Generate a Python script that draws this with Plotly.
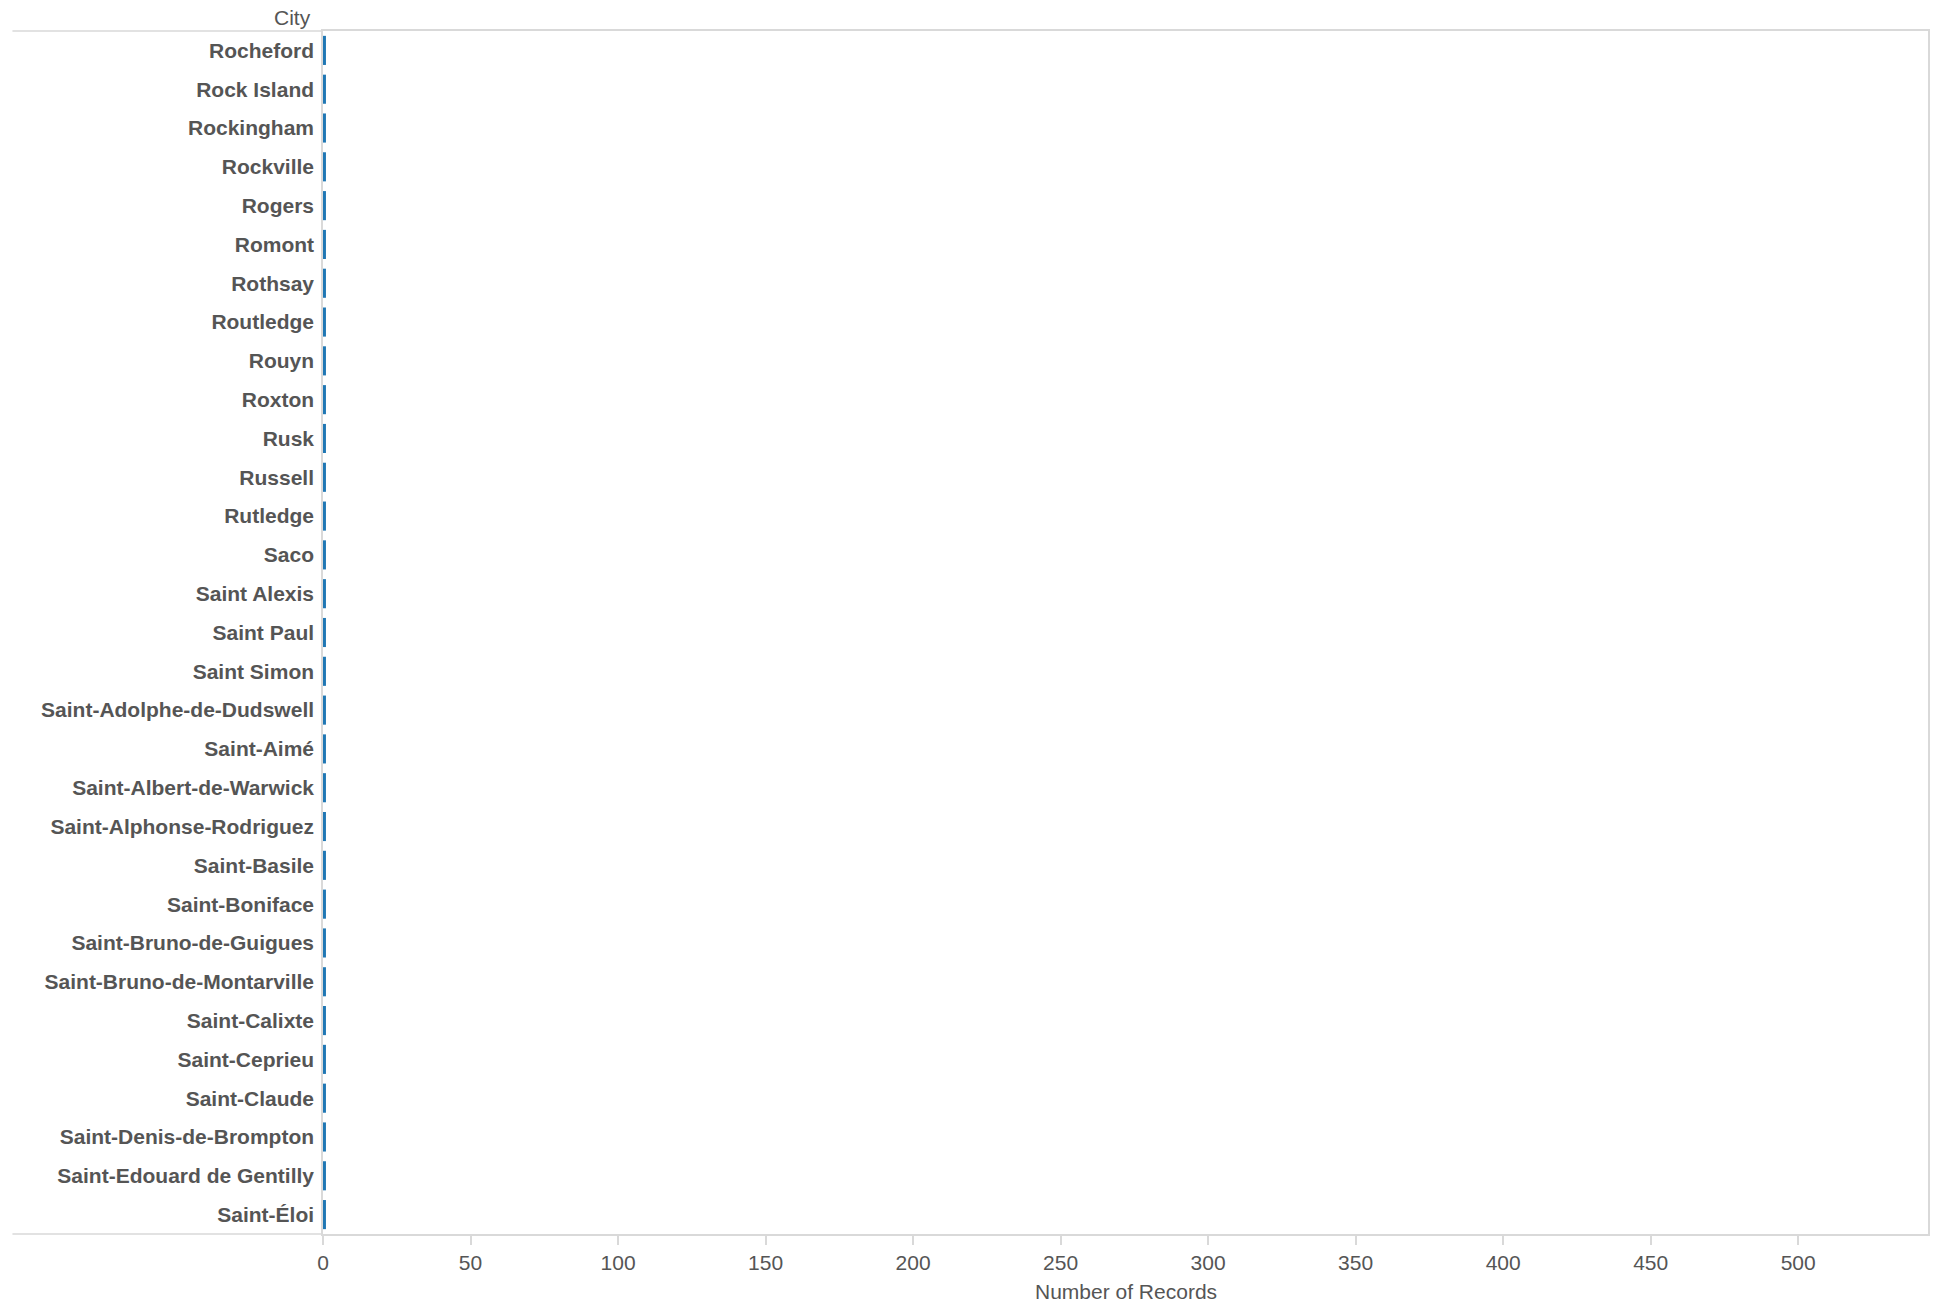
import plotly.graph_objects as go

cities = [
    "Rocheford", "Rock Island", "Rockingham", "Rockville", "Rogers", "Romont",
    "Rothsay", "Routledge", "Rouyn", "Roxton", "Rusk", "Russell", "Rutledge",
    "Saco", "Saint Alexis", "Saint Paul", "Saint Simon",
    "Saint-Adolphe-de-Dudswell", "Saint-Aimé", "Saint-Albert-de-Warwick",
    "Saint-Alphonse-Rodriguez", "Saint-Basile", "Saint-Boniface",
    "Saint-Bruno-de-Guigues", "Saint-Bruno-de-Montarville", "Saint-Calixte",
    "Saint-Ceprieu", "Saint-Claude", "Saint-Denis-de-Brompton",
    "Saint-Edouard de Gentilly", "Saint-Éloi",
]
records = [1] * len(cities)
x_ticks = [0, 50, 100, 150, 200, 250, 300, 350, 400, 450, 500]

GRID = "#d9d9d9"
TXT = "#555555"
FONT = "Liberation Sans, Arial, sans-serif"
FS = 21

fig = go.Figure(go.Bar(
    x=records, y=cities, orientation="h",
    marker=dict(color="#1f77b4", line=dict(width=0)),
    width=0.75,
))

fig.update_layout(
    width=1941, height=1305,
    margin=dict(l=323, r=11, t=31, b=71),
    paper_bgcolor="white", plot_bgcolor="white",
    showlegend=False,
    font=dict(family=FONT, color=TXT, size=FS),
    xaxis=dict(
        range=[0, 544], tickvals=x_ticks, ticks="outside", ticklen=9,
        tickcolor=GRID, tickwidth=1.5, showgrid=False, zeroline=False,
        showline=True, linecolor=GRID, linewidth=1.5, mirror=True,
        tickfont=dict(size=FS, color=TXT, family=FONT),
    ),
    yaxis=dict(
        autorange="reversed", showgrid=False, zeroline=False,
        showline=True, linecolor=GRID, linewidth=1.5, mirror=True,
        ticks="", ticklabelstandoff=3,
        tickfont=dict(size=FS, color=TXT, family=FONT, weight="bold"),
    ),
    annotations=[
        dict(text="City", xref="paper", yref="paper", x=0, y=1,
             xanchor="right", yanchor="bottom", xshift=-10, yshift=0,
             showarrow=False, font=dict(size=FS, color=TXT, family=FONT)),
        dict(text="Number of Records", xref="paper", yref="paper", x=0.5, y=0,
             xanchor="center", yanchor="middle", yshift=-57,
             showarrow=False, font=dict(size=FS, color=TXT, family=FONT)),
    ],
    shapes=[
        dict(type="line", xref="paper", yref="paper", x0=-0.1935, x1=0, y0=1, y1=1,
             line=dict(color=GRID, width=1.5)),
        dict(type="line", xref="paper", yref="paper", x0=-0.1935, x1=0, y0=0, y1=0,
             line=dict(color=GRID, width=1.5)),
    ],
)

fig.write_html("out.html", config={"displayModeBar": False},
               post_script="document.body.style.margin='0';")
